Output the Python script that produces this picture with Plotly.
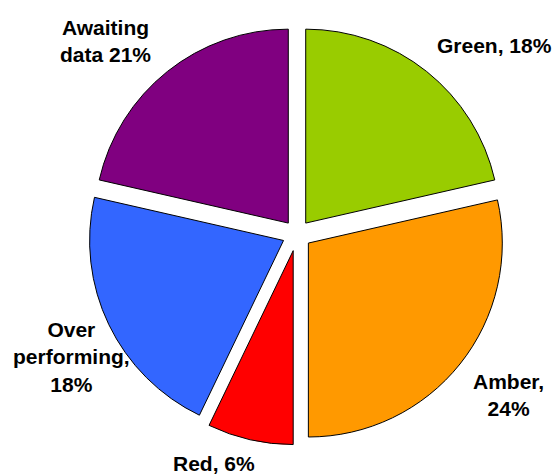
import plotly.graph_objects as go

categories = ["Green", "Amber", "Red", "Over performing", "Awaiting data"]
values = [18, 24, 6, 18, 18]
label_texts = ["Green, 18%", "Amber,<br>24%", "Red, 6%", "Over<br>performing,<br>18%", "Awaiting<br>data 21%"]
colors = ["#99CC00", "#FF9900", "#FF0000", "#3366FF", "#800080"]
pulls = [0.072, 0.075, 0.088, 0.077, 0.072]

# label anchor positions in pixels (x, y from top)
label_pos = [(494, 45), (508, 395), (214, 463), (71, 357), (105, 41)]

W, H = 557, 474
cx, cy, half = 297, 234, 211

fig = go.Figure()
fig.add_trace(go.Pie(
    labels=categories,
    values=values,
    marker=dict(colors=colors, line=dict(color="black", width=1)),
    pull=pulls,
    sort=False,
    direction="clockwise",
    rotation=0,
    textinfo="none",
    hoverinfo="label+value",
    showlegend=False,
    domain=dict(x=[(cx - half) / W, (cx + half) / W],
                y=[1 - (cy + half) / H, 1 - (cy - half) / H]),
))

for txt, (px, py) in zip(label_texts, label_pos):
    fig.add_annotation(
        text="<b>" + txt + "</b>", x=px / W, y=1 - py / H,
        xref="paper", yref="paper", xanchor="center", yanchor="middle",
        showarrow=False, align="center",
        font=dict(family="Liberation Sans, Arial, sans-serif", size=21, color="black"),
    )

fig.update_layout(
    width=W, height=H,
    margin=dict(l=0, r=0, t=0, b=0),
    paper_bgcolor="white", plot_bgcolor="white",
)

fig.write_html("out.html")
